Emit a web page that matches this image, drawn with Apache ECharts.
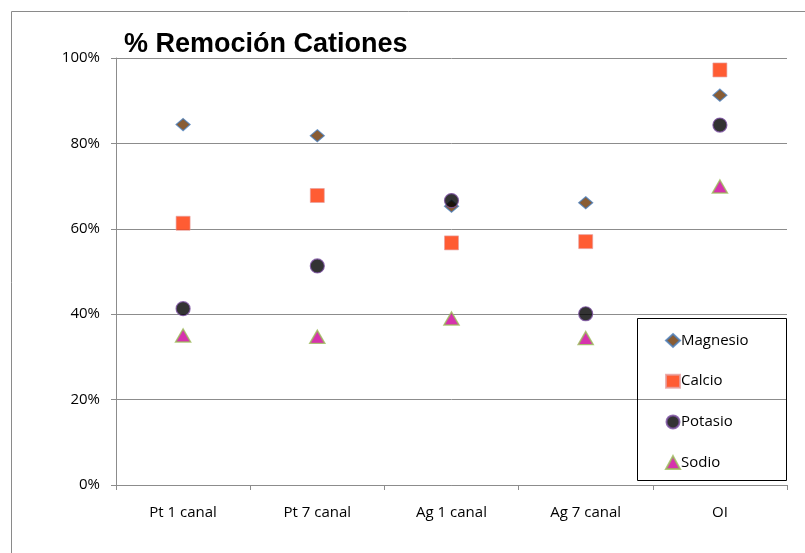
<!DOCTYPE html>
<html>
<head>
<meta charset="utf-8">
<script src="https://cdn.jsdelivr.net/npm/echarts@6/dist/echarts.min.js"></script>
<style>
  html, body { margin: 0; padding: 0; background: #fff; }
  #chart { width: 805px; height: 553px; }
</style>
</head>
<body>
<div id="chart"></div>
<script>
// data (percent)
const categories = ['Pt 1 canal', 'Pt 7 canal', 'Ag 1 canal', 'Ag 7 canal', 'OI'];
const magnesio = [84.4, 81.8, 65.3, 66.1, 91.3];
const calcio = [61.3, 67.8, 56.7, 57.0, 97.2];
const potasio = [41.3, 51.3, 66.6, 40.1, 84.3];
const sodio = [35.0, 34.7, 39.0, 34.4, 69.9];
const yTicks = [0, 20, 40, 60, 80, 100];

const chart = echarts.init(document.getElementById('chart'));
const axisGray = '#8c8c8c';
const labelFont = { color: '#000', fontFamily: 'Open Sans', fontSize: 15 };

chart.setOption({
  animation: false,
  backgroundColor: '#fff',
  title: {
    text: '% Remoción Cationes',
    left: 119, top: 26,
    textStyle: { fontFamily: 'Liberation Sans', fontWeight: 'bold', fontSize: 27, color: '#000' }
  },
  graphic: [
    { type: 'rect', shape: { x: 11.5, y: 11.5, width: 820, height: 560 }, style: { fill: 'none', stroke: '#8a8a8a', lineWidth: 1 }, silent: true },
    { type: 'rect', shape: { x: 637.5, y: 318.5, width: 149, height: 162 }, style: { fill: 'none', stroke: '#000', lineWidth: 1 }, silent: true, z: 10 }
  ],
  legend: {
    orient: 'vertical',
    left: 660, top: 328,
    itemWidth: 14, itemHeight: 13,
    itemGap: 25.7,
    textStyle: { ...labelFont, padding: [0, 0, 0, -4] },
    data: ['Magnesio', 'Calcio', 'Potasio', 'Sodio']
  },
  grid: { left: 116, right: 18, top: 58, bottom: 68 },
  xAxis: {
    type: 'category',
    data: categories,
    boundaryGap: true,
    axisLine: { lineStyle: { color: axisGray } },
    axisTick: { show: true, length: 5, lineStyle: { color: axisGray } },
    axisLabel: { ...labelFont, margin: 20 },
    splitLine: { show: false }
  },
  yAxis: {
    type: 'value',
    min: 0, max: 100, interval: 20,
    axisLine: { show: true, lineStyle: { color: axisGray } },
    axisTick: { show: true, length: 5, lineStyle: { color: axisGray } },
    axisLabel: { ...labelFont, margin: 16, formatter: v => yTicks.includes(v) ? v + '%' : '' },
    splitLine: { lineStyle: { color: axisGray, width: 1 } }
  },
  series: [
    { name: 'Magnesio', type: 'scatter', data: magnesio, symbol: 'diamond', symbolSize: [14, 12],
      itemStyle: { color: '#6b3300', borderColor: '#4a7ebb', borderWidth: 1.2 } },
    { name: 'Calcio', type: 'scatter', data: calcio, symbol: 'rect', symbolSize: 14,
      itemStyle: { color: '#ff3300', borderColor: '#e6a0a0', borderWidth: 0.8 } },
    { name: 'Potasio', type: 'scatter', data: potasio, symbol: 'circle', symbolSize: 14,
      itemStyle: { color: '#000', borderColor: '#7a4fa0', borderWidth: 1.2 } },
    { name: 'Sodio', type: 'scatter', data: sodio, symbol: 'triangle', symbolSize: [15, 13],
      itemStyle: { color: '#cc0099', borderColor: '#9bbb59', borderWidth: 1.5 } }
  ]
});
</script>
</body>
</html>
